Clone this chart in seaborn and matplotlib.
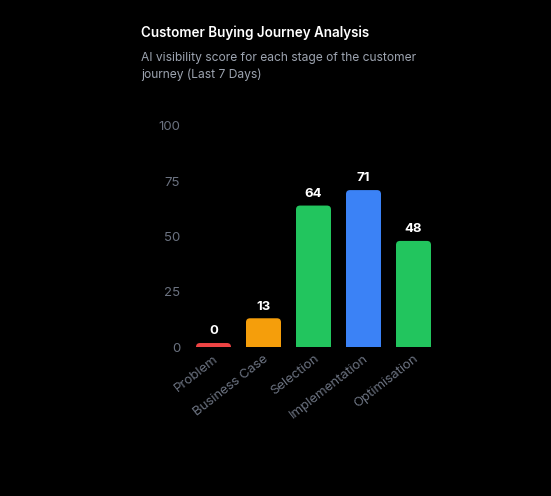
import matplotlib
matplotlib.use("Agg")
import matplotlib.pyplot as plt
import seaborn as sns
import pandas as pd
from matplotlib.patches import FancyBboxPatch

stages = ["Problem", "Business Case", "Selection", "Implementation", "Optimisation"]
scores = [0, 13, 64, 71, 48]
colors = ["#ef4444", "#f59e0b", "#22c55e", "#3b82f6", "#22c55e"]
yticks = [0, 25, 50, 75, 100]

sns.set_theme(style="dark")
plt.rcParams["font.family"] = ["Inter", "DejaVu Sans"]

MIN_SHOWN = 1.8
df = pd.DataFrame({"stage": stages, "score": scores,
                   "shown": [max(v, MIN_SHOWN) for v in scores]})

fig = plt.figure(figsize=(5.51, 4.96), dpi=100, facecolor="black")
ax = fig.add_axes([188.5 / 551, 149 / 496, 250 / 551, 221 / 496])
ax.set_facecolor("black")

sns.barplot(data=df, x="stage", y="shown", hue="stage", palette=colors,
            width=0.7, legend=False, ax=ax, saturation=1)

ax.set_ylim(0, 100)
ax.set_xlim(-0.5, 4.5)

# replace rectangles by rounded ones
px_per_x = 250 / 5.0
px_per_y = 221 / 100.0
rad_px = 4.0
for p in list(ax.patches):
    x, y = p.get_x(), p.get_y()
    w, h = p.get_width(), p.get_height()
    fc = p.get_facecolor()
    p.remove()
    r = rad_px / px_per_x
    ext = 3 * rad_px / px_per_y
    fb = FancyBboxPatch((x + r, y - ext), w - 2 * r, h + ext - r * (px_per_x / px_per_y),
                        boxstyle=f"round,pad={r},rounding_size={r}",
                        mutation_aspect=px_per_x / px_per_y,
                        facecolor=fc, edgecolor="none", linewidth=0)
    fb.set_clip_on(True)
    ax.add_patch(fb)

for i, v in enumerate(scores):
    top = max(v, MIN_SHOWN)
    ax.text(i, top + 2.6, f"{v}", ha="center", va="bottom", color="white",
            fontsize=9.5, fontweight="bold")

ax.set_yticks(yticks)
ax.set_yticklabels([str(t) for t in yticks])
ax.tick_params(axis="y", colors="#6b7280", labelsize=9.5, length=0, pad=6)
ax.tick_params(axis="x", colors="#6b7280", labelsize=9.5, length=0, pad=4)
for lab in ax.get_xticklabels():
    lab.set_rotation(38)
    lab.set_ha("right")
    lab.set_rotation_mode("anchor")
ax.set_xlabel("")
ax.set_ylabel("")
ax.grid(False)
for s in ax.spines.values():
    s.set_visible(False)

fig.text(141 / 551, 1 - 33 / 496, "Customer Buying Journey Analysis", color="white",
         fontsize=9.7, fontweight="semibold", va="center", ha="left")
fig.text(141 / 551, 1 - 52.5 / 496, "AI visibility score for each stage of the customer\njourney (Last 7 Days)",
         color="#9ca3af", fontsize=8.7, va="top", ha="left", linespacing=1.45)

fig.savefig("out.png", dpi=100, facecolor="black")
